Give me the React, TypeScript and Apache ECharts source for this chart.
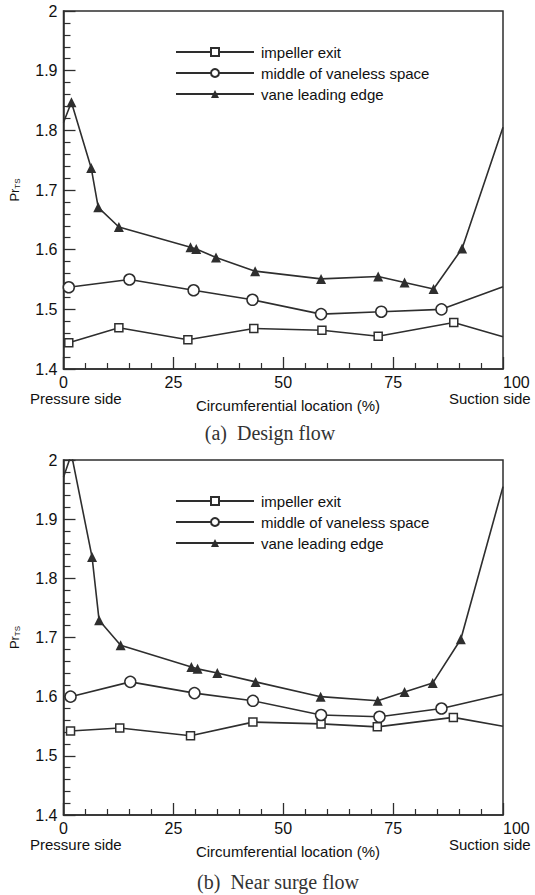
import React, { useEffect, useRef } from "react";
import * as echarts from "echarts";

// ---- Data ----
const seriesNames = ["impeller exit", "middle of vaneless space", "vane leading edge"];
const xTickLabels = ["0", "25", "50", "75", "100"];

// (a) Design flow
const designExitX = [1.2, 12.6, 28.3, 43.3, 58.8, 71.6, 88.8, 100];
const designExitY = [1.444, 1.469, 1.449, 1.468, 1.465, 1.455, 1.478, 1.454];
const designMidX = [1.2, 15, 29.6, 43, 58.6, 72.3, 86, 100];
const designMidY = [1.537, 1.55, 1.532, 1.516, 1.492, 1.496, 1.5, 1.538];
const designVaneX = [0, 1.8, 6.3, 7.9, 12.6, 28.9, 30.2, 34.7, 43.6, 58.6, 71.6, 77.6, 84.2, 90.7, 100];
const designVaneY = [1.813, 1.847, 1.737, 1.671, 1.638, 1.604, 1.601, 1.587, 1.564, 1.551, 1.555, 1.545, 1.534, 1.602, 1.805];

// (b) Near surge flow
const surgeExitX = [1.6, 12.8, 28.9, 43.1, 58.6, 71.4, 88.7, 100];
const surgeExitY = [1.542, 1.547, 1.534, 1.557, 1.554, 1.549, 1.565, 1.55];
const surgeMidX = [1.6, 15.2, 29.8, 43.1, 58.6, 71.9, 86, 100];
const surgeMidY = [1.6, 1.625, 1.606, 1.593, 1.569, 1.566, 1.58, 1.604];
const surgeVaneX = [0, 1.8, 6.5, 8.1, 13, 29.1, 30.5, 35, 43.7, 58.5, 71.5, 77.6, 84, 90.4, 100];
const surgeVaneY = [1.971, 2.01, 1.836, 1.729, 1.687, 1.65, 1.647, 1.64, 1.625, 1.6, 1.593, 1.608, 1.623, 1.697, 1.955];

const INK = "#2e2e2e";
const TXT = "#111111";
const SANS = "'Liberation Sans', Arial, sans-serif";
const SERIF = "'Liberation Serif', 'Times New Roman', serif";

function pts(xs: number[], ys: number[]) {
  return xs.map((x, i) => {
    const item: any = { value: [x, ys[i]] };
    if (x === 0 || x === 100) item.symbol = "none";
    return item;
  });
}

function xAxisFor(gridIndex: number) {
  return {
    type: "value",
    gridIndex,
    min: 0,
    max: 100,
    interval: 25,
    axisLine: { show: true, onZero: false, lineStyle: { color: INK, width: 1.5 } },
    axisTick: { show: true, inside: true, length: 12, lineStyle: { color: INK, width: 1.3 } },
    minorTick: { show: true, splitNumber: 5, length: 6, lineStyle: { color: INK, width: 1.2 } },
    splitLine: { show: false },
    axisLabel: {
      color: TXT,
      fontFamily: SANS,
      fontSize: 16,
      margin: 5,
      alignMaxLabel: "left",
      formatter: (v: number) => xTickLabels[Math.round(v / 25)] ?? String(v),
    },
  };
}

function yAxisFor(gridIndex: number) {
  return {
    type: "value",
    gridIndex,
    min: 1.4,
    max: 2,
    interval: 0.1,
    name: "{a|Pr}{b|TS}",
    nameLocation: "middle",
    nameRotate: 90,
    nameGap: 42,
    nameTextStyle: {
      rich: {
        a: { fontFamily: SANS, fontSize: 13, color: TXT },
        b: { fontFamily: SANS, fontSize: 8, color: TXT, padding: [6, 0, 0, 0] },
      },
    },
    axisLine: { show: true, onZero: false, lineStyle: { color: INK, width: 1.5 } },
    axisTick: { show: true, inside: true, length: 12, lineStyle: { color: INK, width: 1.3 } },
    minorTick: { show: true, splitNumber: 5, length: 7, lineStyle: { color: INK, width: 1.2 } },
    splitLine: { show: false },
    axisLabel: {
      color: TXT,
      fontFamily: SANS,
      fontSize: 16,
      margin: 6,
      formatter: (v: number) => String(Number(v.toFixed(1))),
    },
  };
}

function seriesFor(gridIndex: number, data: [number[], number[]][]) {
  const symbols = ["rect", "circle", "triangle"];
  const sizes = [8, 11, 10];
  return data.map(([xs, ys], i) => ({
    type: "line",
    name: seriesNames[i],
    xAxisIndex: gridIndex,
    yAxisIndex: gridIndex,
    data: pts(xs, ys),
    symbol: symbols[i],
    symbolSize: sizes[i],
    showAllSymbol: true,
    clip: true,
    lineStyle: { color: INK, width: 1.6 },
    itemStyle:
      i === 2
        ? { color: INK, borderColor: INK, borderWidth: 0 }
        : { color: "#ffffff", borderColor: INK, borderWidth: 1.5 },
    emphasis: { disabled: true },
  }));
}

function legendFor(top: number) {
  return {
    orient: "vertical",
    left: 170,
    top,
    itemWidth: 78,
    itemHeight: 10,
    itemGap: 5,
    selectedMode: false,
    data: seriesNames,
    textStyle: {
      fontFamily: SANS,
      fontSize: 15,
      lineHeight: 16,
      color: TXT,
      padding: [0, 0, 0, 2],
    },
  };
}

function textEl(text: string, x: number, y: number, opts: any = {}) {
  return {
    type: "text",
    x,
    y,
    style: {
      text,
      fontFamily: SANS,
      fontSize: 15,
      fill: TXT,
      textAlign: "left",
      textVerticalAlign: "middle",
      ...opts,
    },
  };
}

export default function App() {
  const ref = useRef<HTMLDivElement>(null);

  useEffect(() => {
    if (!ref.current) return;
    const chart = echarts.init(ref.current, null, { renderer: "svg" });
    const option: any = {
      animation: false,
      backgroundColor: "#ffffff",
      grid: [
        { left: 57, top: 11, width: 446, height: 358, show: true, borderColor: INK, borderWidth: 1.5, backgroundColor: "transparent" },
        { left: 57, top: 460, width: 446, height: 355, show: true, borderColor: INK, borderWidth: 1.5, backgroundColor: "transparent" },
      ],
      xAxis: [xAxisFor(0), xAxisFor(1)],
      yAxis: [yAxisFor(0), yAxisFor(1)],
      legend: [legendFor(39), legendFor(488)],
      series: [
        ...seriesFor(0, [
          [designExitX, designExitY],
          [designMidX, designMidY],
          [designVaneX, designVaneY],
        ]),
        ...seriesFor(1, [
          [surgeExitX, surgeExitY],
          [surgeMidX, surgeMidY],
          [surgeVaneX, surgeVaneY],
        ]),
      ],
      graphic: [
        textEl("Pressure side", 30, 398),
        textEl("Suction side", 449, 398),
        textEl("Circumferential location (%)", 288, 405, { textAlign: "center" }),
        textEl("(a)  Design flow", 270, 433, { fontFamily: SERIF, fontSize: 20, textAlign: "center", fill: "#333" }),
        textEl("Pressure side", 30, 844),
        textEl("Suction side", 449, 844),
        textEl("Circumferential location (%)", 288, 851, { textAlign: "center" }),
        textEl("(b)  Near surge flow", 278, 882, { fontFamily: SERIF, fontSize: 20, textAlign: "center", fill: "#333" }),
      ],
    };
    chart.setOption(option);
    return () => chart.dispose();
  }, []);

  return (
    <div
      ref={ref}
      style={{ position: "absolute", left: 0, top: 0, width: 535, height: 895, background: "#fff" }}
    />
  );
}
